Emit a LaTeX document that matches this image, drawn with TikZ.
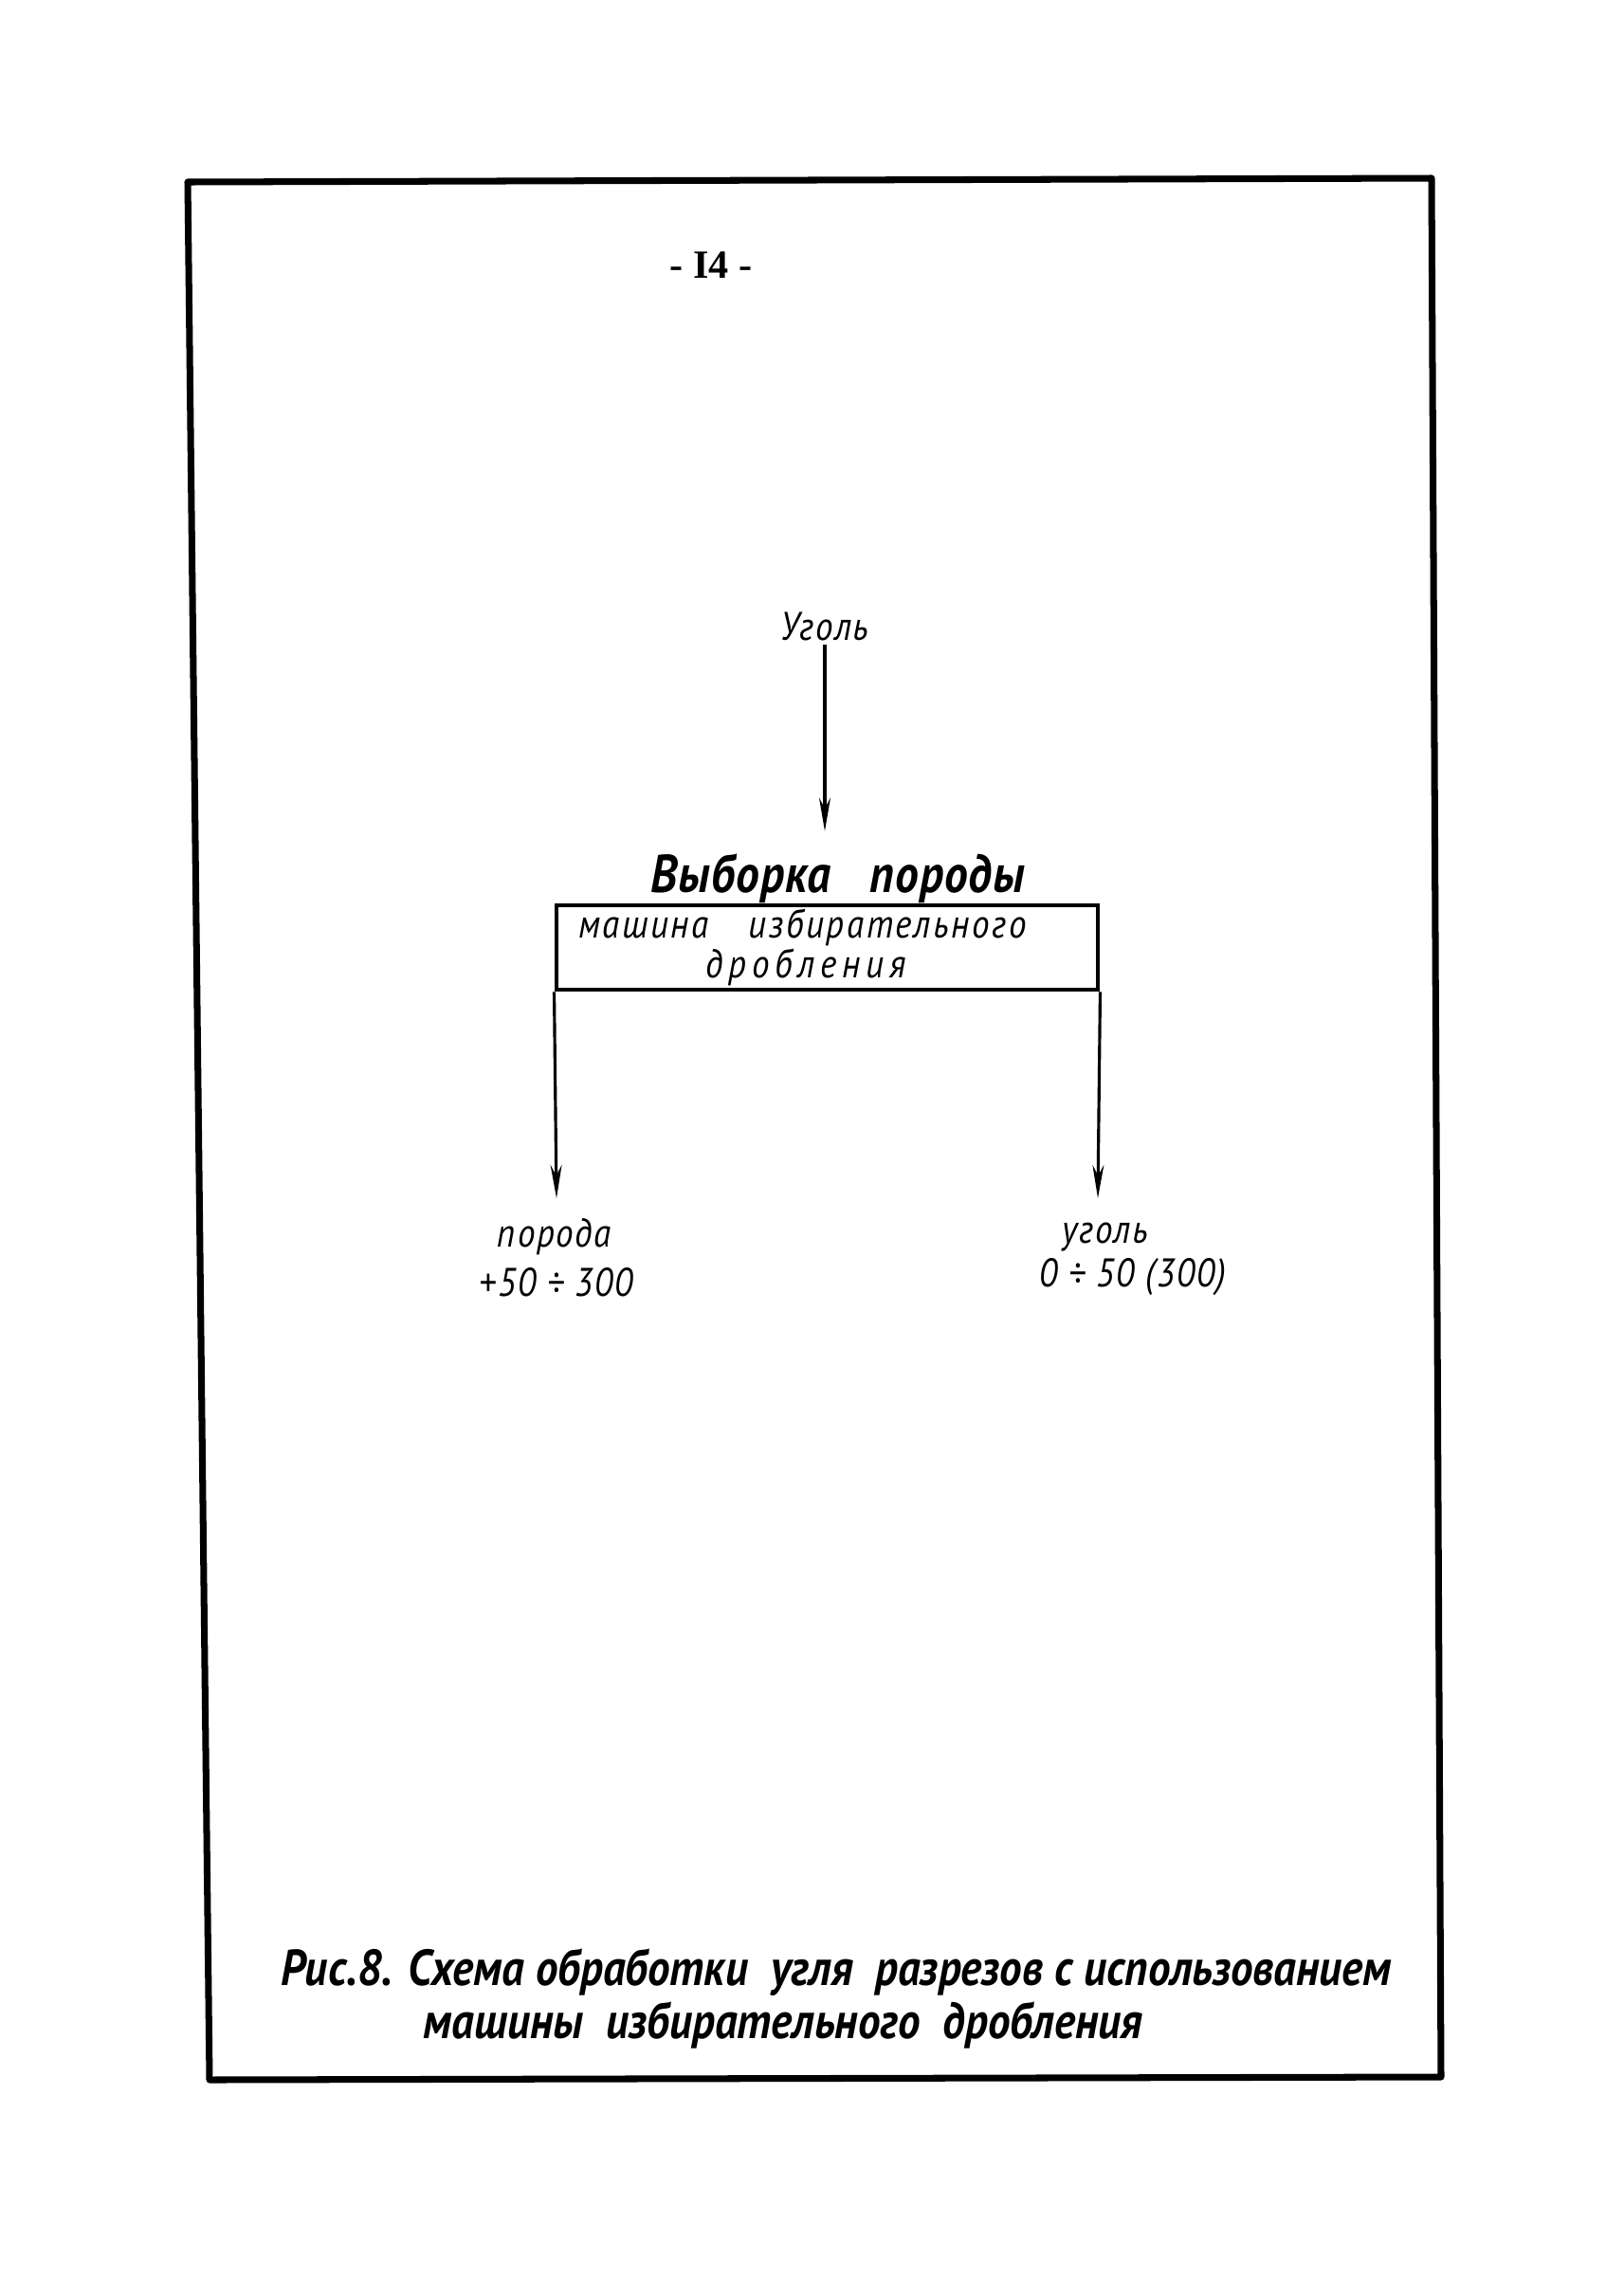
\documentclass[tikz,border=0pt]{standalone}
\usepackage{fontspec}
\usepackage{tikz}
\usetikzlibrary{arrows.meta}
\newfontfamily\hand{PT Sans}[FakeStretch=0.88]
\newfontfamily\typer{Liberation Serif}
\tikzstyle{frame} = [line width=2pt, line join=round]
\tikzstyle{pagenum} = [font=\typer\bfseries\fontsize{12}{14}\selectfont]
\tikzstyle{hw} = [inner sep=1pt, font=\hand\itshape\fontsize{12}{13}\selectfont\addfontfeatures{LetterSpace=4}]
\tikzstyle{title} = [inner sep=1pt, font=\hand\bfseries\itshape\fontsize{16}{18}\selectfont\addfontfeatures{LetterSpace=2}]
\tikzstyle{machine} = [rectangle, draw=black, line width=1.4pt, minimum width=5.71cm, minimum height=0.89cm, text width=5.25cm, align=left, inner sep=1pt, font=\hand\itshape\fontsize{12}{10.5}\selectfont\addfontfeatures{LetterSpace=6}]
\tikzstyle{caption} = [inner sep=1pt, font=\hand\bfseries\itshape\fontsize{15.2}{17}\selectfont]
\tikzstyle{arrow} = [line width=0.9pt, -{Stealth[length=10pt, width=3.4pt]}]

\begin{document}
\begin{tikzpicture}
\useasboundingbox (0,0) rectangle (17.13,-24.21);

% sheet frame and page number
\draw [frame] (1.98,-1.92) -- (15.10,-1.88) -- (15.20,-21.91) -- (2.21,-21.94) -- cycle;
\node (page) [pagenum] at (7.50,-2.80) {- I4 -};

\node (coal) [hw] at (8.70,-6.61) {Уголь};

\node (sel) [title] at (8.84,-9.27) {Выборка\ \ \ породы};
\node (mach) [machine] at (8.725,-9.995) {машина\quad избирательного\\\hspace*{1.34cm}\addfontfeatures{LetterSpace=14}дробления};

\coordinate (lt) at (5.87,-12.64);
\coordinate (rt) at (11.58,-12.64);

\node (rock) [hw] at (5.85,-13.05) {порода};
\node (rocksize) [hw] at (5.87,-13.53) {+50 ÷ 300};
\node (coalout) [hw] at (11.66,-13.05) {уголь};
\node (coalsize) [hw] at (11.95,-13.47) {0 ÷ 50 (300)};

\draw [arrow, shorten >=0.2cm] (coal.south) -- (coal.south |- sel.north);
\draw [arrow] (mach.south west) -- (lt);
\draw [arrow] (mach.south east) -- (rt);

\node (cap1) [caption] at (8.82,-20.81) {Рис.8. Схема обработки\ \ угля\ \ разрезов с использованием};
\node (cap2) [caption] at (8.26,-21.36) {машины\ \ избирательного\ \ дробления};

\end{tikzpicture}
\end{document}
